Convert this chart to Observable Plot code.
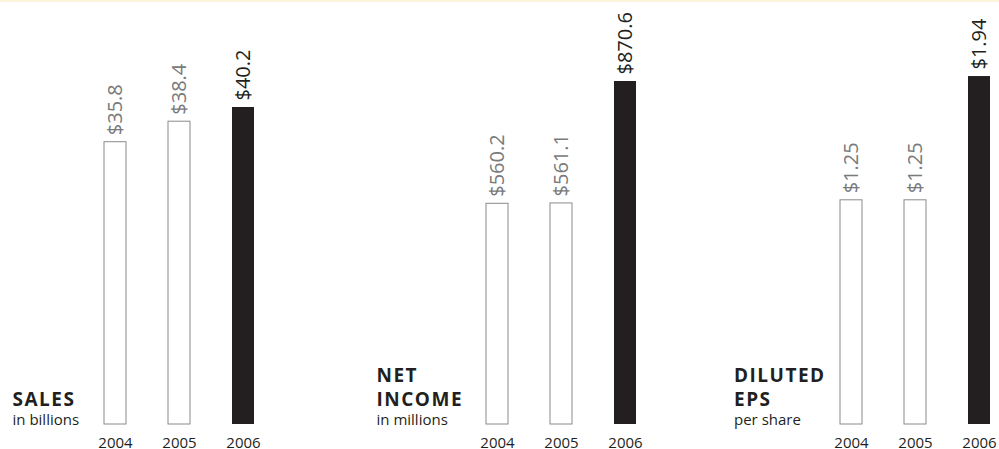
<!DOCTYPE html>
<html>
<head>
<meta charset="utf-8">
<script src="https://cdn.jsdelivr.net/npm/d3@7"></script>
<script src="https://cdn.jsdelivr.net/npm/@observablehq/plot@0.6"></script>
<style>
  body { margin: 0; background: #fff; }
  #chart { position: relative; width: 999px; height: 449px; overflow: hidden; font-family: "Open Sans", sans-serif; background: #fff; }
  #chart svg { position: absolute; top: 0; }
  #topline { position: absolute; left: 0; top: 0; width: 999px; height: 2px; background: #fdf4dc; z-index: 2; }
  #chart [font-weight="bold"], #chart [font-weight="bold"] text { letter-spacing: 1.5px; }
</style>
</head>
<body>
<div id="chart"><div id="topline"></div></div>
<script>
// ---- data ----
const years = ["2004", "2005", "2006"];
const salesValues = [35.8, 38.4, 40.2];
const netIncomeValues = [560.2, 561.1, 870.6];
const epsValues = [1.25, 1.25, 1.94];
const titles = ["SALES", "NET\nINCOME", "DILUTED\nEPS"];
const subtitles = ["in billions", "in millions", "per share"];
const highlightYear = "2006";

// ---- layout ----
const dark = "#231f20";
const gray = "#8a8a8a";
const panels = [
  {values: salesValues, title: titles[0], subtitle: subtitles[0], fmt: d3.format("$.1f"), yMax: 53.77, left: 0, xRange: [104, 254], titleX: 12},
  {values: netIncomeValues, title: titles[1], subtitle: subtitles[1], fmt: d3.format("$.1f"), yMax: 1076.2, left: 333, xRange: [153, 303], titleX: 43},
  {values: epsValues, title: titles[2], subtitle: subtitles[2], fmt: d3.format("$.2f"), yMax: 2.364, left: 666, xRange: [174, 324], titleX: 67.5}
];

const chart = document.getElementById("chart");

for (const p of panels) {
  const data = years.map((year, i) => ({year, value: p.values[i]}));
  const isHi = d => d.year === highlightYear;
  const svg = Plot.plot({
    width: 333,
    height: 449,
    marginTop: 0,
    marginBottom: 25,
    marginLeft: 0,
    marginRight: 0,
    style: {background: "transparent", fontFamily: "'Open Sans', sans-serif", overflow: "visible", color: dark},
    x: {domain: years, range: p.xRange, paddingInner: 0.65625, paddingOuter: 0, align: 0.5, axis: null},
    y: {domain: [0, p.yMax], axis: null},
    marks: [
      Plot.barY(data, {filter: d => !isHi(d), x: "year", y: "value", fill: "white", stroke: gray, strokeWidth: 1}),
      Plot.barY(data, {filter: isHi, x: "year", y: "value", fill: dark}),
      Plot.text(data, {
        x: "year", y: "value", text: d => p.fmt(d.value),
        rotate: -90, textAnchor: "start", lineAnchor: "middle", dy: -7,
        fontSize: 20, fontWeight: 400,
        fill: d => isHi(d) ? dark : "#7a7a7a"
      }),
      Plot.text(data, {x: "year", frameAnchor: "bottom", text: "year", dy: 23, lineAnchor: "bottom", fontSize: 15, fill: dark}),
      Plot.text([p.title], {frameAnchor: "bottom-left", text: d => d, dx: p.titleX, dy: -18.5, lineAnchor: "bottom", textAnchor: "start", fontWeight: "bold", fontSize: 19, lineHeight: 1.26, fill: dark}),
      Plot.text([p.subtitle], {frameAnchor: "bottom-left", text: d => d, dx: p.titleX, dy: 0, lineAnchor: "bottom", textAnchor: "start", fontSize: 15, fill: dark})
    ]
  });
  svg.style.left = p.left + "px";
  chart.appendChild(svg);
}
</script>
</body>
</html>
